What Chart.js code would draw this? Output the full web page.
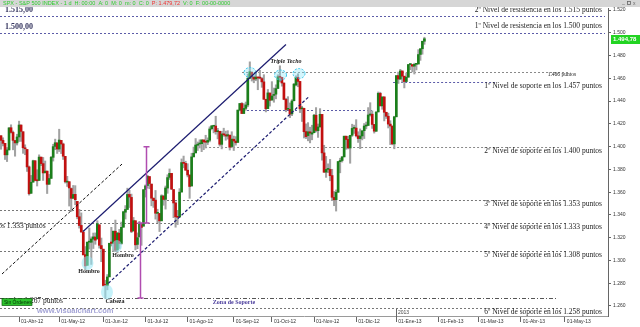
<!DOCTYPE html>
<html><head><meta charset="utf-8">
<script src="https://cdn.jsdelivr.net/npm/chart.js@4.4.0/dist/chart.umd.min.js"></script>
<style>html,body{margin:0;padding:0;background:#fff;overflow:hidden}#wrap{width:640px;height:327px;position:relative}</style>
</head><body><div id="wrap"><canvas id="c" width="640" height="327"></canvas></div>
<script>
// ---- categories (trading days; future part of the axis projects weekdays) ----
const startDate = '2012-03-20';
const axisEndDate = '2013-05-30';
const holidays = ['2012-04-06','2012-05-28','2012-07-04','2012-09-03','2012-10-29','2012-10-30','2012-11-22','2012-12-25','2013-01-01','2013-01-21'];

// ---- S&P 500 daily OHLC, 2012-03-20 .. 2013-01-23 ----
const opens = [
1409.6,1405.5,1402.9,1392.8,1397.1,1416.6,1412.5,1405.4,1403.3,
1408.5,1419.0,1413.1,1398.8,1397.5,1382.2,1359.0,1368.8,1387.6,1370.3,1370.3,1390.8,1385.1,1377.0,1378.5,1367.0,1372.1,1390.6,1400.2,1403.3,
1397.9,1405.5,1402.3,1391.5,1368.8,1369.2,1363.2,1354.6,1358.1,1351.9,1338.4,1330.8,1324.8,1305.1,1295.7,1316.1,1316.0,1318.7,1320.6,1318.9,1331.3,1313.1,
1309.9,1278.3,1277.8,1285.6,1316.2,1315.0,1325.7,1309.4,1324.0,1314.9,1329.2,1342.4,1344.8,1358.0,1355.4,1325.9,1334.9,1314.1,1320.7,1331.5,1330.1,
1362.3,1365.8,1373.7,1367.1,1354.7,1353.0,1341.4,1341.3,1334.8,1356.5,1353.7,1363.6,1373.0,1376.5,1362.3,1350.5,1338.4,1338.2,1360.1,1385.9,1385.3,
1379.3,1375.1,1365.4,1391.0,1394.5,1401.2,1402.3,1402.6,1405.9,1404.4,1403.9,1405.6,1415.8,1417.9,1418.1,1413.1,1413.5,1402.0,1411.1,1410.4,1409.3,1410.1,1400.1,
1406.5,1404.9,1403.7,1432.1,1437.9,1429.1,1433.6,1436.6,1460.1,1465.4,1461.2,1459.5,1461.1,1460.3,1459.8,1456.9,1441.6,1433.4,1447.1,
1440.9,1445.0,1446.1,1451.1,1461.4,1460.9,1455.9,1441.5,1432.8,1432.8,1428.8,1440.3,1454.2,1460.9,1457.3,1433.2,1433.7,1413.2,1409.7,1413.0,1411.0,
1412.2,1427.6,1414.0,1417.3,1428.3,1394.5,1377.6,1380.0,1380.0,1374.6,1355.4,1353.4,1359.9,1386.8,1387.8,1391.0,1409.2,1406.3,1398.8,1410.0,1416.0,
1416.3,1409.5,1407.1,1409.4,1414.0,1418.1,1418.6,1427.8,1428.5,1419.5,1413.5,1430.5,1446.8,1435.8,1443.7,1430.2,1426.7,1419.8,1418.1,1402.4,
1426.2,1462.4,1459.4,1466.5,1461.9,1457.2,1461.0,1472.1,1472.1,1470.7,1472.3,1472.6,1481.0,1486.0,1492.6];
const highs = [
1409.6,1407.8,1402.9,1399.2,1416.6,1419.2,1413.7,1405.4,1410.9,
1422.4,1419.0,1413.1,1401.6,1397.5,1383.0,1374.7,1388.1,1387.6,1379.7,1392.8,1390.8,1390.5,1387.4,1378.5,1375.6,1391.4,1402.1,1406.6,1403.3,
1415.3,1405.5,1403.1,1391.5,1373.9,1369.2,1363.7,1365.9,1365.7,1351.9,1344.9,1341.8,1326.4,1312.2,1316.4,1328.5,1320.7,1324.1,1324.2,1334.9,1331.3,1319.7,
1309.9,1282.6,1287.6,1315.1,1329.1,1325.8,1335.5,1324.3,1327.3,1333.7,1343.3,1348.2,1363.5,1361.6,1358.3,1337.8,1334.9,1324.2,1334.4,1331.5,1362.2,
1366.4,1374.8,1373.9,1367.1,1354.9,1361.5,1345.0,1341.3,1357.7,1357.3,1365.4,1375.3,1380.4,1376.5,1362.3,1351.5,1344.0,1363.1,1389.2,1391.7,1387.2,
1385.0,1375.1,1394.2,1399.6,1407.1,1404.1,1406.0,1406.0,1405.9,1410.0,1407.7,1417.4,1418.7,1418.1,1426.7,1416.1,1413.5,1413.5,1416.2,1413.6,1414.0,1410.1,1413.1,
1409.3,1408.8,1432.1,1437.9,1438.7,1437.8,1439.2,1463.8,1474.5,1465.6,1461.5,1465.2,1461.2,1467.1,1460.7,1463.2,1441.6,1450.2,1447.1,
1457.1,1451.5,1454.3,1463.1,1471.0,1460.9,1455.9,1442.5,1443.9,1438.4,1441.3,1455.5,1462.2,1464.0,1457.3,1435.5,1433.7,1420.0,1421.1,1417.1,1418.8,
1428.4,1434.3,1419.9,1433.4,1428.3,1401.2,1391.4,1384.9,1388.8,1380.1,1360.6,1362.0,1386.9,1389.8,1391.3,1409.2,1409.2,1409.0,1410.0,1419.7,1418.9,
1423.7,1413.1,1415.6,1414.0,1420.3,1421.6,1434.3,1438.6,1431.4,1419.5,1430.7,1448.0,1447.8,1443.7,1443.7,1430.2,1429.4,1422.8,1418.1,1426.7,
1462.4,1465.5,1467.9,1466.5,1461.9,1464.7,1472.3,1472.8,1472.1,1473.3,1473.0,1485.2,1486.0,1492.6,1496.1];
const lows = [
1397.7,1400.6,1388.7,1386.9,1397.1,1411.9,1397.2,1391.6,1401.4,
1404.5,1404.6,1394.1,1392.9,1378.2,1357.4,1359.0,1368.8,1369.9,1365.4,1370.3,1383.3,1370.3,1377.0,1358.8,1366.8,1372.1,1387.3,1397.3,1394.0,
1395.7,1393.9,1388.7,1368.0,1365.0,1347.8,1343.1,1354.6,1348.9,1336.6,1328.4,1324.8,1304.9,1292.0,1295.7,1310.0,1296.5,1310.5,1314.2,1318.9,1310.8,1298.9,
1277.3,1266.7,1274.2,1285.6,1312.7,1307.8,1307.7,1306.6,1310.5,1314.1,1329.2,1336.4,1344.8,1346.5,1324.4,1325.9,1309.3,1310.3,1320.7,1313.3,1330.1,
1355.7,1363.5,1363.0,1348.0,1346.6,1336.3,1333.2,1325.4,1334.8,1348.5,1345.1,1359.0,1371.2,1362.2,1337.6,1329.2,1331.5,1338.2,1360.1,1381.4,1379.2,
1373.4,1354.6,1365.4,1391.0,1394.5,1396.6,1398.8,1395.6,1397.3,1398.8,1401.8,1404.2,1414.7,1412.1,1410.9,1406.8,1400.5,1398.0,1409.1,1405.6,1406.6,1397.0,1399.0,
1396.6,1401.3,1403.7,1431.4,1429.0,1429.1,1432.0,1435.0,1460.1,1457.6,1456.1,1457.9,1450.0,1459.5,1452.1,1441.6,1430.5,1433.4,1435.6,
1440.9,1439.0,1442.0,1451.1,1456.9,1453.1,1441.2,1430.6,1432.8,1425.5,1427.2,1440.3,1453.4,1452.6,1429.9,1422.1,1407.6,1407.1,1405.1,1403.3,1406.0,
1412.2,1412.9,1408.1,1417.3,1388.1,1377.5,1373.0,1377.2,1370.0,1352.5,1348.1,1343.4,1359.9,1377.0,1386.4,1391.0,1397.7,1398.0,1385.4,1409.0,1411.6,
1408.5,1403.7,1398.2,1405.9,1407.1,1415.6,1418.6,1426.8,1416.0,1411.9,1413.5,1430.5,1435.8,1432.8,1422.6,1424.7,1416.4,1401.8,1401.6,1398.1,
1426.2,1455.5,1459.0,1456.6,1451.6,1457.2,1461.0,1467.6,1465.7,1463.8,1467.4,1472.6,1475.8,1481.2,1489.9];
const closes = [
1405.5,1402.9,1392.8,1397.1,1416.5,1412.5,1405.5,1403.3,1408.5,
1419.0,1413.4,1399.0,1398.1,1382.2,1358.6,1368.7,1387.6,1370.3,1370.0,1390.8,1385.1,1376.9,1378.5,1366.9,1372.0,1390.7,1400.0,1403.4,1397.9,
1405.8,1402.3,1391.6,1369.1,1369.6,1363.7,1354.6,1358.0,1353.4,1338.4,1330.7,1325.0,1304.9,1295.2,1316.0,1316.6,1318.9,1320.7,1317.8,1332.4,1313.3,1310.3,
1278.0,1278.2,1285.5,1315.1,1315.0,1325.7,1308.9,1324.2,1314.9,1329.1,1342.8,1344.8,1358.0,1355.7,1325.5,1335.0,1313.7,1320.0,1331.9,1329.0,1362.2,
1365.5,1374.0,1367.6,1354.7,1352.5,1341.5,1341.5,1334.8,1356.8,1353.6,1363.7,1372.8,1376.5,1362.7,1350.5,1338.3,1337.9,1360.0,1386.0,1385.3,1379.3,
1375.1,1365.0,1391.0,1394.2,1401.4,1402.2,1402.8,1405.9,1404.1,1403.9,1405.5,1415.5,1418.2,1418.1,1413.2,1413.5,1402.1,1411.1,1410.4,1409.3,1410.5,1399.5,1406.6,
1404.9,1403.4,1432.1,1437.9,1429.1,1433.6,1436.6,1460.0,1465.8,1461.2,1459.3,1461.1,1460.3,1460.2,1456.9,1441.6,1433.3,1447.2,1440.7,
1444.5,1445.8,1451.0,1461.4,1460.9,1455.9,1441.5,1432.6,1432.8,1428.6,1440.1,1454.9,1460.9,1457.3,1433.2,1433.8,1413.1,1408.8,1413.0,1411.9,1412.2,
1427.6,1414.2,1417.3,1428.4,1394.5,1377.5,1380.0,1380.0,1374.5,1355.5,1353.3,1359.9,1386.9,1387.8,1391.0,1409.2,1406.3,1398.9,1409.9,1416.0,1416.2,
1409.5,1407.1,1409.3,1413.9,1418.1,1418.6,1427.8,1428.5,1419.5,1413.6,1430.4,1446.8,1435.8,1443.7,1430.2,1426.7,1419.8,1418.1,1402.4,1426.2,
1462.4,1459.4,1466.5,1461.9,1457.2,1461.0,1472.1,1472.1,1470.7,1472.3,1472.6,1480.9,1486.0,1492.6,1494.8];

// ---- axis tick labels ----
const tickMonths = ['2012-04','2012-05','2012-06','2012-07','2012-08','2012-09','2012-10','2012-11','2012-12','2013-01','2013-02','2013-03','2013-04','2013-05'];
const tickLabels = ['01-Abr-12','01-May-12','01-Jun-12','01-Jul-12','01-Ago-12','01-Sep-12','01-Oct-12','01-Nov-12','01-Dic-12','01-Ene-13','01-Feb-13','01-Mar-13','01-Abr-13','01-May-13'];
const yTicks = [1260,1280,1300,1320,1340,1360,1380,1400,1420,1440,1460,1480,1500,1520];
const Y_MIN = 1251.2, Y_MAX = 1521.8;
const lastPrice = '1.494,78';

// ---- annotations (in category index / value coordinates) ----
const levelLines = [
  {v:1515, a:-0.5, b:301, c:'#5c5ca8', d:[2,2]},
  {v:1500, a:-0.5, b:301, c:'#5c5ca8', d:[2,2]},
  {v:1466, a:120.1, b:283.6, c:'#8a8a8a', d:[2,2]},
  {v:1457, a:195.4, b:246.2, c:'#5c5ca8', d:[2,2]},
  {v:1432, a:120.6, b:184.9, c:'#5c5ca8', d:[2,2]},
  {v:1400, a:101.7, b:279.6, c:'#8a8a8a', d:[2,2]},
  {v:1353, a:80.7, b:281.6, c:'#777', d:[2,2]},
  {v:1344, a:-0.5, b:46.8, c:'#777', d:[2,2]},
  {v:1333, a:-0.5, b:282.6, c:'#777', d:[2,2]},
  {v:1308, a:-0.5, b:281.6, c:'#777', d:[2,2]},
  {v:1267, a:-0.5, b:277.6, c:'#555', d:[4,2,1,2]},
  {v:1258, a:-0.5, b:279.6, c:'#777', d:[2,2]}
];
const trendLines = [
  {a:[0.5,1288.1], b:[60.3,1384.7], c:'#111', w:1, d:[3,2]},
  {a:[40.9,1325.4], b:[142.0,1489.7], c:'#1c1c70', w:1.2, d:[]},
  {a:[53.5,1279.9], b:[153.5,1444.0], c:'#1c1c70', w:1.2, d:[3,2]}
];
const measureLines = [
  {i:72.1, v1:1400, v2:1333},
  {i:69.4, v1:1333, v2:1267}
];
const circles = [
  {i:43.1, v:1297.8, rx:6, ry:7, dashed:false},
  {i:52.8, v:1272.3, rx:6, ry:7.5, dashed:false},
  {i:57.8, v:1312.7, rx:5, ry:6, dashed:false},
  {i:124.1, v:1465.1, rx:6, ry:5, dashed:true},
  {i:139.3, v:1462.9, rx:6, ry:5, dashed:true},
  {i:148.5, v:1464.2, rx:6, ry:5, dashed:true}
];
const levelTexts = [
  {t:'2º Nivel de resistencia en los 1.515 puntos', i:299.5, v:1520.0},
  {t:'1º Nivel de resistencia en los 1.500 puntos', i:299.5, v:1505.9},
  {t:'1º Nivel de soporte en los 1.457 puntos', i:299.5, v:1453.2},
  {t:'2º Nivel de soporte en los 1.400 puntos', i:299.5, v:1396.4},
  {t:'3º Nivel de soporte en los 1.353 puntos', i:299.5, v:1349.3},
  {t:'4º Nivel de soporte en los 1.333 puntos', i:299.5, v:1329.1},
  {t:'5º Nivel de soporte en los 1.308 puntos', i:299.5, v:1304.5},
  {t:'6º Nivel de soporte en los 1.258 puntos', i:299.5, v:1254.7},
  {t:'en los 1.333 puntos', i:22.2, v:1330.3},
  {t:'en los 1.267 puntos', i:30.9, v:1264.7}
];
const leftLabels = [
  {t:'1.515,00', v:1520.0},
  {t:'1.500,00', v:1505.0}
];
const patternTexts = [
  {t:'Hombro', i:43.9, v:1290.1, f:'bold 6px "Liberation Serif"', c:'#222'},
  {t:'Hombro', i:60.8, v:1304.8, f:'bold 6px "Liberation Serif"', c:'#222'},
  {t:'Cabeza', i:56.8, v:1263.8, f:'bold 6px "Liberation Serif"', c:'#222'},
  {t:'Triple Techo', i:142.0, v:1474.6, f:'italic bold 6px "Liberation Serif"', c:'#222'},
  {t:'Zona de Soporte', i:116.1, v:1262.9, f:'bold 6px "Liberation Serif"', c:'#4a3c9c'}
];

// ---- build categories ----
function ymd(d){return d.toISOString().slice(0,10);}
const categories = [];
for (let d = new Date(startDate+'T00:00:00Z'); ymd(d) <= axisEndDate; d.setUTCDate(d.getUTCDate()+1)) {
  const wd = d.getUTCDay();
  if (wd === 0 || wd === 6) continue;
  if (holidays.includes(ymd(d))) continue;
  categories.push(ymd(d));
}
const tickAt = {};
tickMonths.forEach((m, k) => { const idx = categories.findIndex(c => c.startsWith(m)); if (idx >= 0) tickAt[idx] = tickLabels[k]; });
const yearIdx = categories.findIndex(c => c.startsWith('2013'));

function fmt(v){ const s = String(Math.round(v)); return s.length > 3 ? s.slice(0, s.length-3) + '.' + s.slice(-3) : s; }

const wicks = lows.map((l, i) => [l, highs[i]]);
const bodies = opens.map((o, i) => [o, closes[i]]);
const bodyColors = opens.map((o, i) => closes[i] >= o ? '#1b7f1b' : '#c21010');

const annot = {
  id: 'annot',
  beforeDraw(chart) {
    const c = chart.ctx; c.save(); c.fillStyle = '#fff'; c.fillRect(0, 0, chart.width, chart.height); c.restore();
  },
  beforeDatasetsDraw(chart) {
    const c = chart.ctx, xs = chart.scales.x, ys = chart.scales.y;
    c.save();
    levelLines.forEach(L => {
      const y = Math.round(ys.getPixelForValue(L.v)) + 0.5;
      c.strokeStyle = L.c; c.lineWidth = 1; c.setLineDash(L.d);
      c.beginPath(); c.moveTo(xs.getPixelForValue(L.a), y); c.lineTo(xs.getPixelForValue(L.b), y); c.stroke();
    });
    c.restore();
  },
  afterDatasetsDraw(chart) {
    const c = chart.ctx, xs = chart.scales.x, ys = chart.scales.y;
    const X = i => xs.getPixelForValue(i), Y = v => ys.getPixelForValue(v);
    c.save();
    circles.forEach(o => {
      c.beginPath(); c.ellipse(X(o.i), Y(o.v), o.rx, o.ry, 0, 0, Math.PI*2);
      c.fillStyle = o.dashed ? 'rgba(130,225,245,0.35)' : 'rgba(150,232,245,0.55)'; c.fill();
      if (o.dashed) { c.setLineDash([2,1.5]); c.strokeStyle = '#35c8ee'; c.lineWidth = 1; c.stroke(); c.setLineDash([]); }
    });
    trendLines.forEach(t => {
      c.strokeStyle = t.c; c.lineWidth = t.w; c.setLineDash(t.d);
      c.beginPath(); c.moveTo(X(t.a[0]), Y(t.a[1])); c.lineTo(X(t.b[0]), Y(t.b[1])); c.stroke();
    });
    c.setLineDash([]);
    c.strokeStyle = '#b04cb0'; c.lineWidth = 1.5;
    measureLines.forEach(m => {
      const x = Math.round(X(m.i)) + 0.5, y1 = Y(m.v1), y2 = Y(m.v2);
      c.beginPath(); c.moveTo(x, y1); c.lineTo(x, y2);
      c.moveTo(x-3, y1); c.lineTo(x+3, y1); c.moveTo(x-3, y2); c.lineTo(x+3, y2); c.stroke();
    });
    c.textBaseline = 'middle'; c.textAlign = 'right'; c.fillStyle = '#222';
    c.font = '7.5px "Liberation Serif"';
    levelTexts.forEach(t => c.fillText(t.t, X(t.i), Y(t.v)));
    c.font = '5.5px "Liberation Serif"';
    c.fillText('1.466 puntos', X(286.6), Y(1462.9));
    c.textAlign = 'left'; c.fillStyle = '#34345e'; c.font = 'bold 8px "Liberation Serif"';
    leftLabels.forEach(t => c.fillText(t.t, 5, Y(t.v)));
    c.textAlign = 'center';
    patternTexts.forEach(t => { c.font = t.f; c.fillStyle = t.c; c.fillText(t.t, X(t.i), Y(t.v)); });
    c.restore();
  },
  afterDraw(chart) {
    const c = chart.ctx, xs = chart.scales.x, ys = chart.scales.y;
    c.save();
    c.fillStyle = '#d6d6d6'; c.fillRect(0, 0, 640, 7);
    c.font = '5.5px "Liberation Sans"'; c.textBaseline = 'middle'; c.textAlign = 'left';
    let x = 3;
    const parts = [['SPX - S&P 500 INDEX - 1 d  H: 00:00  A: 0  M: 0  m: 0  C: 0  ', '#2ecc2e'], ['P: 1.479,72  ', '#ee3333'], ['V: 0  F: 00-00-0000', '#2ecc2e']];
    parts.forEach(p => { c.fillStyle = p[1]; c.fillText(p[0], x, 3.8); x += c.measureText(p[0]).width; });
    c.fillStyle = '#666'; c.font = '5px "Liberation Sans"';
    c.fillText('_', 622, 2.5); c.strokeStyle = '#666'; c.lineWidth = 0.8; c.strokeRect(627.5, 1.5, 3, 3);
    c.fillText('x', 633, 3.5);
    const py = ys.getPixelForValue(closes[closes.length-1]);
    c.fillStyle = '#22d422'; c.fillRect(611, Math.round(py) - 4, 29, 9);
    c.fillStyle = '#fff'; c.font = 'bold 6px "Liberation Sans"'; c.fillText(lastPrice, 613, Math.round(py) + 0.5);
    const yx = Math.round(xs.getPixelForValue(yearIdx)) + 0.5;
    c.strokeStyle = '#666'; c.lineWidth = 1; c.beginPath(); c.moveTo(yx, 309); c.lineTo(yx, 317); c.stroke();
    c.fillStyle = '#444'; c.font = '5px "Liberation Sans"'; c.fillText('2013', yx + 1.5, 312.5);
    c.fillStyle = '#2ec42e'; c.fillRect(2, 298.5, 30, 7); c.strokeStyle = '#0a5a0a'; c.lineWidth = 0.7; c.strokeRect(2, 298.5, 30, 7);
    c.fillStyle = '#063006'; c.font = '5px "Liberation Sans"'; c.fillText('Sin Órdenes', 4, 302.2);
    c.fillStyle = '#a4a4d6'; c.font = 'bold 7.5px "Liberation Sans"'; c.fillText('www.visualchart.com', 37, 310.7);
    c.restore();
  }
};

new Chart(document.getElementById('c'), {
  type: 'bar',
  data: {
    labels: categories,
    datasets: [
      {label: 'body', data: bodies, backgroundColor: bodyColors, barThickness: 2, minBarLength: 1, grouped: false, borderWidth: 0, order: 0},
      {label: 'wick', data: wicks, backgroundColor: '#a2a2a2', barThickness: 1.4, grouped: false, borderWidth: 0, order: 1}
    ]
  },
  options: {
    responsive: false, animation: false, devicePixelRatio: 1,
    layout: {padding: {top: 8, left: 0, right: 0, bottom: 0}},
    plugins: {legend: {display: false}, tooltip: {enabled: false}},
    scales: {
      x: {
        offset: true,
        afterFit: s => { s.height = 11; },
        grid: {drawOnChartArea: false, offset: false, tickLength: 6, color: ctx => (tickAt[ctx.index] ? '#666' : 'rgba(0,0,0,0)')},
        border: {color: '#9a9a9a'},
        ticks: {autoSkip: false, maxRotation: 0, minRotation: 0, align: 'start', labelOffset: 2, padding: -3, font: {family: 'Liberation Sans', size: 5}, color: '#333', callback: (v, i) => tickAt[i] || ''}
      },
      y: {
        position: 'right', min: Y_MIN, max: Y_MAX,
        afterBuildTicks: s => { s.ticks = yTicks.map(v => ({value: v})); },
        afterFit: s => { s.width = 32; },
        grid: {drawOnChartArea: false, tickLength: 3, color: '#666'},
        border: {color: '#666'},
        ticks: {font: {family: 'Liberation Sans', size: 5}, color: '#333', padding: 2, callback: v => fmt(v)}
      }
    }
  },
  plugins: [annot]
});
</script>
</body></html>
